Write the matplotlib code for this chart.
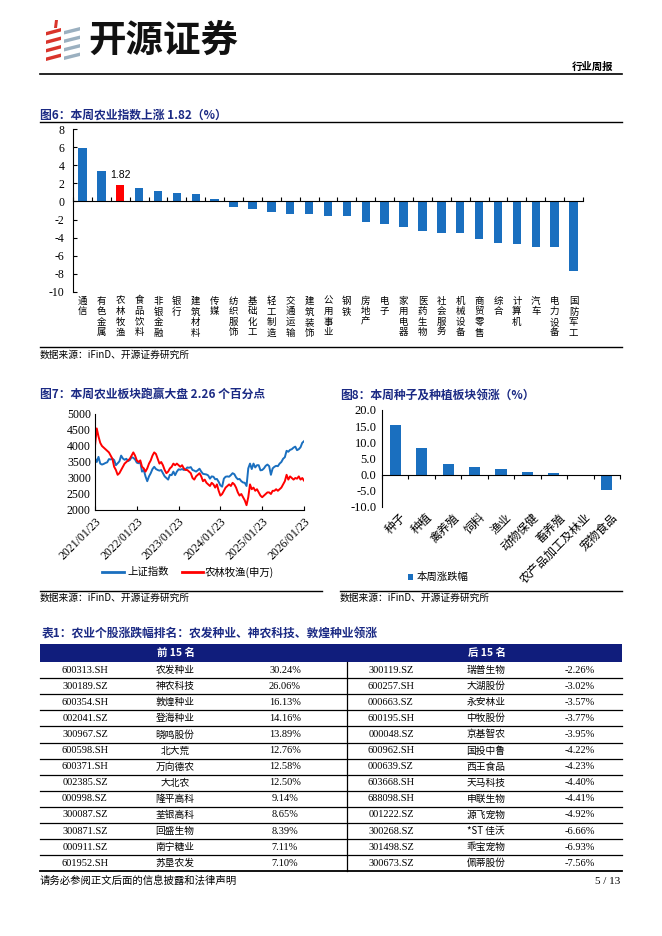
import numpy as np
import pandas as pd
import matplotlib
matplotlib.use('Agg')
import matplotlib.pyplot as plt
import matplotlib.dates as mdates
from matplotlib.patches import Polygon, Rectangle

plt.rcParams['font.family'] = ['Noto Sans CJK SC', 'DejaVu Sans']
plt.rcParams['axes.unicode_minus'] = False

SERIF = ['Liberation Serif', 'DejaVu Serif']
NAVY = '#1b2a84'
BLUE = '#1a6fbf'
RED = '#ff0000'

# ---- 图6 data: industry weekly change (%)
ind_names = ['通信', '有色金属', '农林牧渔', '食品饮料', '非银金融', '银行', '建筑材料',
             '传媒', '纺织服饰', '基础化工', '轻工制造', '交通运输', '建筑装饰', '公用事业',
             '钢铁', '房地产', '电子', '家用电器', '医药生物', '社会服务', '机械设备',
             '商贸零售', '综合', '计算机', '汽车', '电力设备', '国防军工']
ind_chg = [5.85, 3.40, 1.82, 1.52, 1.10, 0.88, 0.78, 0.22, -0.63, -0.85, -1.19, -1.41,
           -1.41, -1.63, -1.63, -2.22, -2.52, -2.85, -3.30, -3.44, -3.44, -4.19, -4.63,
           -4.74, -5.07, -5.07, -7.63]

# ---- 图7 data: index levels, roughly semi-monthly from 2021/01/23 to 2026/01/23
sh_index = [3620, 3500, 3660, 3450, 3420, 3440, 3470, 3490, 3590, 3580, 3600, 3560, 3400,
            3460, 3520, 3700, 3610, 3570, 3600, 3530, 3560, 3650, 3630,
            3580, 3480, 3460, 3490, 3200, 3250, 3050, 2900, 3050, 3150, 3280, 3350,
            3280, 3250, 3230, 3250, 3150, 3050, 3000, 2950, 3100, 3090, 3200, 3090,
            3200, 3270, 3260, 3280, 3250, 3270, 3330, 3320, 3340, 3250, 3230, 3200,
            3240, 3290, 3200, 3130, 3120, 3110, 3080, 2980, 3050, 3040, 2960, 2970,
            2880, 2770, 2730, 2980, 3040, 3050, 3040, 3090, 3150, 3120, 3020, 2960,
            2970, 2900, 2860, 2850, 2750, 3300, 3450, 3280, 3450, 3330, 3400, 3400,
            3240, 3250, 3300, 3380, 3420, 3370, 3100, 3300, 3350, 3380, 3370, 3450,
            3500, 3600, 3650, 3850, 3820, 3880, 3900, 3950, 3980, 3870, 3900, 3960,
            4100, 4150]
agri_index = [4000, 4550, 4300, 4100, 4000, 3950, 3900, 3850, 3800, 3700, 3600, 3350, 3250,
              3100, 3150, 3250, 3350, 3450, 3500, 3550, 3600, 3700, 3800,
              3700, 3550, 3500, 3550, 3350, 3300, 3200, 3300, 3450, 3550, 3700, 3800,
              3750, 3600, 3450, 3500, 3400, 3250, 3150, 3200, 3300, 3350, 3450, 3400,
              3450, 3400, 3350, 3400, 3300, 3250, 3250, 3200, 3150, 3000, 2950, 3050,
              3100, 3150, 3050, 2900, 2950, 2850, 2800, 2750, 2850, 2800, 2700, 2800,
              2600, 2450, 2500, 2600, 2700, 2750, 2800, 2750, 2850, 2800, 2700, 2550,
              2450, 2500, 2400, 2300, 2150, 2400, 2800, 2650, 2700, 2600, 2650, 2550,
              2450, 2400, 2450, 2500, 2550, 2550, 2500, 2600, 2600, 2650, 2600, 2650,
              2700, 2800, 2900, 3100, 2950, 3050, 3000, 2950, 3000, 2980, 3050, 2950,
              3000, 2920]
date_start, date_end = '2021-01-23', '2026-01-23'

# ---- 图8 data: sub-sector weekly change (%)
sub_names = ['种子', '种植', '禽养殖', '饲料', '渔业', '动物保健', '畜养殖', '农产品加工及林业', '宠物食品']
sub_chg = [15.5, 8.4, 3.4, 2.3, 1.6, 0.8, 0.4, 0.05, -4.8]

# ---- 表1 data
top_codes = ['600313.SH', '300189.SZ', '600354.SH', '002041.SZ', '300967.SZ', '600598.SH',
             '600371.SH', '002385.SZ', '000998.SZ', '300087.SZ', '300871.SZ', '000911.SZ',
             '601952.SH']
top_names = ['农发种业', '神农科技', '敦煌种业', '登海种业', '晓鸣股份', '北大荒', '万向德农',
             '大北农', '隆平高科', '荃银高科', '回盛生物', '南宁糖业', '苏垦农发']
top_pcts = ['30.24%', '26.06%', '16.13%', '14.16%', '13.89%', '12.76%', '12.58%', '12.50%',
            '9.14%', '8.65%', '8.39%', '7.11%', '7.10%']
bot_codes = ['300119.SZ', '600257.SH', '000663.SZ', '600195.SH', '000048.SZ', '600962.SH',
             '000639.SZ', '603668.SH', '688098.SH', '001222.SZ', '300268.SZ', '301498.SZ',
             '300673.SZ']
bot_names = ['瑞普生物', '大湖股份', '永安林业', '中牧股份', '京基智农', '国投中鲁', '西王食品',
             '天马科技', '申联生物', '源飞宠物', '*ST 佳沃', '乖宝宠物', '佩蒂股份']
bot_pcts = ['-2.26%', '-3.02%', '-3.57%', '-3.77%', '-3.95%', '-4.22%', '-4.23%', '-4.40%',
            '-4.41%', '-4.92%', '-6.66%', '-6.93%', '-7.56%']

W, H = 662, 936


def box(x0, y0, x1, y1):
    return [x0 / W, 1 - y1 / H, (x1 - x0) / W, (y1 - y0) / H]


def serif_ticks(ax, size):
    for lbl in ax.get_xticklabels() + ax.get_yticklabels():
        lbl.set_fontfamily(SERIF)
        lbl.set_fontsize(size)


fig = plt.figure(figsize=(W / 100, H / 100), dpi=100)
page = fig.add_axes([0, 0, 1, 1])
page.set_xlim(0, W)
page.set_ylim(H, 0)
page.axis('off')

# header / logo
for k in range(4):
    y = 28 + k * 8.5
    page.add_patch(Polygon([[46, y + 4], [61, y], [61, y + 3.5], [46, y + 7.5]],
                           closed=True, color='#d9342b', lw=0))
    page.add_patch(Polygon([[64, y + 3], [80, y - 1], [80, y + 2.5], [64, y + 6.5]],
                           closed=True, color='#9bb0c0', lw=0))
page.add_patch(Polygon([[55, 20], [58, 20], [57, 28], [54, 28]], closed=True, color='#d9342b', lw=0))
page.text(88, 40, '开源证券', fontsize=27, fontweight='bold', va='center', ha='left', color='#111111')
page.text(613, 67, '行业周报', fontsize=7.5, fontweight='bold', ha='right', va='center')
page.plot([40, 622], [74, 74], color='black', lw=1.2)

# ---- 图6
page.text(40, 115, '图6：本周农业指数上涨 1.82（%）', color=NAVY, fontsize=8.5,
          fontweight='bold', va='center')
page.plot([40, 622], [122, 122], color='black', lw=1)
page.plot([40, 622], [347, 347], color='black', lw=1)
page.text(40, 355, '数据来源：iFinD、开源证券研究所', fontsize=7, va='center')

ax6 = fig.add_axes(box(73, 129, 583, 292))
ax6.patch.set_alpha(0)
x6 = np.arange(len(ind_names))
cols6 = [RED if n == '农林牧渔' else BLUE for n in ind_names]
ax6.bar(x6, ind_chg, width=0.45, color=cols6)
ax6.set_xlim(-0.5, len(ind_names) - 0.5)
ax6.set_ylim(-10, 8)
ax6.set_yticks(range(-10, 9, 2))
ax6.set_xticks(np.arange(len(ind_names) + 1) - 0.5)
ax6.set_xticklabels([])
ax6.spines['top'].set_visible(False)
ax6.spines['right'].set_visible(False)
ax6.spines['bottom'].set_position(('data', 0))
ax6.tick_params(axis='x', direction='in', length=3, width=0.8)
ax6.tick_params(axis='y', direction='in', length=3, width=0.8, pad=6)
serif_ticks(ax6, 8.5)
for i, n in enumerate(ind_names):
    ax6.text(i, -10.5, '\n'.join(n), ha='center', va='top', fontsize=6.8, linespacing=1.22)
i_agri = ind_names.index('农林牧渔')
ax6.text(i_agri, ind_chg[i_agri] + 0.6, '1.82', ha='center', va='bottom', fontsize=7.5,
         fontfamily=['Liberation Sans', 'DejaVu Sans'])

# ---- 图7
page.text(40, 395, '图7：本周农业板块跑赢大盘 2.26 个百分点', color=NAVY, fontsize=8.5,
          fontweight='bold', va='center')
page.plot([40, 322], [591, 591], color='black', lw=1)
page.text(40, 598, '数据来源：iFinD、开源证券研究所', fontsize=7, va='center')

ax7 = fig.add_axes(box(95, 414, 304, 510))
ax7.patch.set_alpha(0)
d_sh = pd.date_range(date_start, date_end, periods=len(sh_index))
d_ag = pd.date_range(date_start, date_end, periods=len(agri_index))
ax7.plot(d_sh, sh_index, color=BLUE, lw=1.4)
ax7.plot(d_ag, agri_index, color=RED, lw=1.4)
ax7.set_ylim(2000, 5000)
ax7.set_yticks(range(2000, 5001, 500))
ax7.set_xlim(pd.Timestamp(date_start), pd.Timestamp(date_end))
ax7.set_xticks(pd.date_range(date_start, date_end, freq=pd.DateOffset(years=1)))
ax7.xaxis.set_major_formatter(mdates.DateFormatter('%Y/%m/%d'))
ax7.spines['top'].set_visible(False)
ax7.spines['right'].set_visible(False)
ax7.tick_params(axis='x', direction='in', length=3, width=0.8, pad=4)
ax7.tick_params(axis='y', length=0, pad=3)
for lbl in ax7.get_xticklabels():
    lbl.set_rotation(45)
    lbl.set_ha('right')
    lbl.set_rotation_mode('anchor')
serif_ticks(ax7, 8.5)

page.plot([102, 124], [572, 572], color=BLUE, lw=2)
page.text(127, 572, '上证指数', fontsize=7.5, va='center')
page.plot([182, 203], [572, 572], color=RED, lw=2)
page.text(205, 572, '农林牧渔(申万)', fontsize=7.5, va='center')

# ---- 图8
page.text(340, 395, '图8：本周种子及种植板块领涨（%）', color=NAVY, fontsize=8.5,
          fontweight='bold', va='center')
page.plot([340, 622], [591, 591], color='black', lw=1)
page.text(340, 598, '数据来源：iFinD、开源证券研究所', fontsize=7, va='center')

ax8 = fig.add_axes(box(382, 410, 620, 507))
ax8.patch.set_alpha(0)
x8 = np.arange(len(sub_names))
ax8.bar(x8, sub_chg, width=0.42, color=BLUE)
ax8.set_xlim(-0.5, len(sub_names) - 0.5)
ax8.set_ylim(-10, 20)
ax8.set_yticks(range(-10, 21, 5))
ax8.set_yticklabels([f'{v:.1f}' for v in range(-10, 21, 5)])
ax8.set_xticks(np.arange(len(sub_names) + 1) - 0.5)
ax8.set_xticklabels([])
ax8.spines['top'].set_visible(False)
ax8.spines['right'].set_visible(False)
ax8.spines['bottom'].set_position(('data', 0))
ax8.tick_params(axis='x', direction='out', length=3, width=0.8)
ax8.tick_params(axis='y', length=0, pad=4)
serif_ticks(ax8, 9)
for i, n in enumerate(sub_names):
    ax8.text(i + 0.15, -11.2, n, rotation=45, ha='right', va='top',
             rotation_mode='anchor', fontsize=8.5)
page.add_patch(Rectangle((408, 574), 5, 6, color=BLUE, lw=0))
page.text(417, 577, '本周涨跌幅', fontsize=7.5, va='center')

# ---- 表1
page.text(42, 634, '表1：农业个股涨跌幅排名：农发种业、神农科技、敦煌种业领涨', color=NAVY,
          fontsize=8.5, fontweight='bold', va='center')
page.add_patch(Rectangle((40, 644), 582, 18, color='#101d7c', lw=0))
page.text(176, 653, '前 15 名', color='white', fontsize=7.5, fontweight='bold', ha='center', va='center')
page.text(487, 653, '后 15 名', color='white', fontsize=7.5, fontweight='bold', ha='center', va='center')
row_top, row_h = 662, 16.1
n_rows = len(top_codes)
for r in range(n_rows):
    yc = row_top + (r + 0.5) * row_h
    page.text(85, yc, top_codes[r], ha='center', va='center', fontsize=7.5, fontfamily=SERIF)
    page.text(175, yc, top_names[r], ha='center', va='center', fontsize=7)
    page.text(285, yc, top_pcts[r], ha='center', va='center', fontsize=7.5, fontfamily=SERIF)
    page.text(391, yc, bot_codes[r], ha='center', va='center', fontsize=7.5, fontfamily=SERIF)
    page.text(486, yc, bot_names[r], ha='center', va='center', fontsize=7)
    page.text(580, yc, bot_pcts[r], ha='center', va='center', fontsize=7.5, fontfamily=SERIF)
    yl = row_top + (r + 1) * row_h
    page.plot([40, 622], [yl, yl], color='black', lw=0.9 if r < n_rows - 1 else 1.3)
page.plot([347, 347], [row_top, row_top + n_rows * row_h], color='black', lw=0.9)

# footer
page.text(40, 881, '请务必参阅正文后面的信息披露和法律声明', fontsize=7.5, va='center')
page.text(620, 881, '5 / 13', fontsize=8, va='center', ha='right', fontfamily=SERIF)

fig.savefig('out.png', dpi=100)
